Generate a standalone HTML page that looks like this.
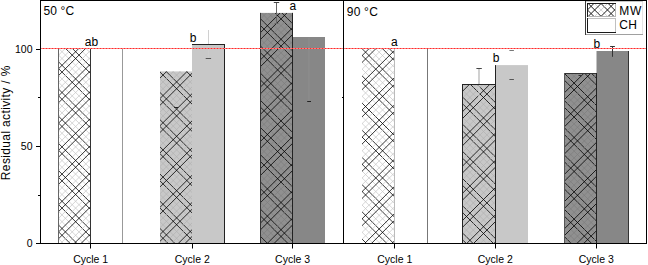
<!DOCTYPE html>
<html><head><meta charset="utf-8"><style>
html,body{margin:0;padding:0;background:#fff;width:648px;height:265px;overflow:hidden}
svg{display:block}
</style></head><body><svg width="648" height="265" viewBox="0 0 648 265"><defs><pattern id="hleg" patternUnits="userSpaceOnUse" x="0" y="0" width="20" height="20"><line x1="-62.50" y1="-20.00" x2="-2.50" y2="40.00" stroke="#1a1a1a" stroke-width="1.0"/><line x1="-42.50" y1="-20.00" x2="17.50" y2="40.00" stroke="#1a1a1a" stroke-width="1.0"/><line x1="-22.50" y1="-20.00" x2="37.50" y2="40.00" stroke="#1a1a1a" stroke-width="1.0"/><line x1="-2.50" y1="-20.00" x2="57.50" y2="40.00" stroke="#1a1a1a" stroke-width="1.0"/><line x1="17.50" y1="-20.00" x2="77.50" y2="40.00" stroke="#1a1a1a" stroke-width="1.0"/><line x1="37.50" y1="-20.00" x2="97.50" y2="40.00" stroke="#1a1a1a" stroke-width="1.0"/><line x1="57.50" y1="-20.00" x2="117.50" y2="40.00" stroke="#1a1a1a" stroke-width="1.0"/><line x1="-55.30" y1="-20.00" x2="4.70" y2="40.00" stroke="#1a1a1a" stroke-width="1.0"/><line x1="-35.30" y1="-20.00" x2="24.70" y2="40.00" stroke="#1a1a1a" stroke-width="1.0"/><line x1="-15.30" y1="-20.00" x2="44.70" y2="40.00" stroke="#1a1a1a" stroke-width="1.0"/><line x1="4.70" y1="-20.00" x2="64.70" y2="40.00" stroke="#1a1a1a" stroke-width="1.0"/><line x1="24.70" y1="-20.00" x2="84.70" y2="40.00" stroke="#1a1a1a" stroke-width="1.0"/><line x1="44.70" y1="-20.00" x2="104.70" y2="40.00" stroke="#1a1a1a" stroke-width="1.0"/><line x1="64.70" y1="-20.00" x2="124.70" y2="40.00" stroke="#1a1a1a" stroke-width="1.0"/><line x1="-48.90" y1="-20.00" x2="11.10" y2="40.00" stroke="#c8c8c8" stroke-width="0.8"/><line x1="-28.90" y1="-20.00" x2="31.10" y2="40.00" stroke="#c8c8c8" stroke-width="0.8"/><line x1="-8.90" y1="-20.00" x2="51.10" y2="40.00" stroke="#c8c8c8" stroke-width="0.8"/><line x1="11.10" y1="-20.00" x2="71.10" y2="40.00" stroke="#c8c8c8" stroke-width="0.8"/><line x1="31.10" y1="-20.00" x2="91.10" y2="40.00" stroke="#c8c8c8" stroke-width="0.8"/><line x1="51.10" y1="-20.00" x2="111.10" y2="40.00" stroke="#c8c8c8" stroke-width="0.8"/><line x1="71.10" y1="-20.00" x2="131.10" y2="40.00" stroke="#c8c8c8" stroke-width="0.8"/><line x1="-22.60" y1="-20.00" x2="-82.60" y2="40.00" stroke="#1a1a1a" stroke-width="1.0"/><line x1="-2.60" y1="-20.00" x2="-62.60" y2="40.00" stroke="#1a1a1a" stroke-width="1.0"/><line x1="17.40" y1="-20.00" x2="-42.60" y2="40.00" stroke="#1a1a1a" stroke-width="1.0"/><line x1="37.40" y1="-20.00" x2="-22.60" y2="40.00" stroke="#1a1a1a" stroke-width="1.0"/><line x1="57.40" y1="-20.00" x2="-2.60" y2="40.00" stroke="#1a1a1a" stroke-width="1.0"/><line x1="77.40" y1="-20.00" x2="17.40" y2="40.00" stroke="#1a1a1a" stroke-width="1.0"/><line x1="97.40" y1="-20.00" x2="37.40" y2="40.00" stroke="#1a1a1a" stroke-width="1.0"/><line x1="-15.40" y1="-20.00" x2="-75.40" y2="40.00" stroke="#1a1a1a" stroke-width="1.0"/><line x1="4.60" y1="-20.00" x2="-55.40" y2="40.00" stroke="#1a1a1a" stroke-width="1.0"/><line x1="24.60" y1="-20.00" x2="-35.40" y2="40.00" stroke="#1a1a1a" stroke-width="1.0"/><line x1="44.60" y1="-20.00" x2="-15.40" y2="40.00" stroke="#1a1a1a" stroke-width="1.0"/><line x1="64.60" y1="-20.00" x2="4.60" y2="40.00" stroke="#1a1a1a" stroke-width="1.0"/><line x1="84.60" y1="-20.00" x2="24.60" y2="40.00" stroke="#1a1a1a" stroke-width="1.0"/><line x1="104.60" y1="-20.00" x2="44.60" y2="40.00" stroke="#1a1a1a" stroke-width="1.0"/><line x1="-9.00" y1="-20.00" x2="-69.00" y2="40.00" stroke="#c8c8c8" stroke-width="0.8"/><line x1="11.00" y1="-20.00" x2="-49.00" y2="40.00" stroke="#c8c8c8" stroke-width="0.8"/><line x1="31.00" y1="-20.00" x2="-29.00" y2="40.00" stroke="#c8c8c8" stroke-width="0.8"/><line x1="51.00" y1="-20.00" x2="-9.00" y2="40.00" stroke="#c8c8c8" stroke-width="0.8"/><line x1="71.00" y1="-20.00" x2="11.00" y2="40.00" stroke="#c8c8c8" stroke-width="0.8"/><line x1="91.00" y1="-20.00" x2="31.00" y2="40.00" stroke="#c8c8c8" stroke-width="0.8"/><line x1="111.00" y1="-20.00" x2="51.00" y2="40.00" stroke="#c8c8c8" stroke-width="0.8"/></pattern><clipPath id="c0"><rect x="58" y="49" width="33" height="194.0"/></clipPath><clipPath id="c1"><rect x="160" y="71.4" width="32" height="171.6"/></clipPath><clipPath id="c2"><rect x="260" y="12.9" width="33" height="230.1"/></clipPath><clipPath id="c3"><rect x="362" y="49" width="33" height="194.0"/></clipPath><clipPath id="c4"><rect x="462" y="84" width="33.5" height="159.0"/></clipPath><clipPath id="c5"><rect x="564" y="73" width="32.5" height="170.0"/></clipPath></defs><rect x="58" y="49" width="33" height="194.0" fill="#fff"/><g clip-path="url(#c0)" shape-rendering="auto"><line x1="-133.10" y1="47" x2="64.90" y2="245.0" stroke="#c4c4c4" stroke-width="0.7"/><line x1="-126.30" y1="47" x2="71.70" y2="245.0" stroke="#000" stroke-width="0.8"/><line x1="-119.50" y1="47" x2="78.50" y2="245.0" stroke="#000" stroke-width="0.8"/><line x1="-112.70" y1="47" x2="85.30" y2="245.0" stroke="#c4c4c4" stroke-width="0.7"/><line x1="-105.90" y1="47" x2="92.10" y2="245.0" stroke="#c4c4c4" stroke-width="0.7"/><line x1="-99.10" y1="47" x2="98.90" y2="245.0" stroke="#000" stroke-width="0.8"/><line x1="-92.30" y1="47" x2="105.70" y2="245.0" stroke="#000" stroke-width="0.8"/><line x1="-85.50" y1="47" x2="112.50" y2="245.0" stroke="#c4c4c4" stroke-width="0.7"/><line x1="-78.70" y1="47" x2="119.30" y2="245.0" stroke="#c4c4c4" stroke-width="0.7"/><line x1="-71.90" y1="47" x2="126.10" y2="245.0" stroke="#000" stroke-width="0.8"/><line x1="-65.10" y1="47" x2="132.90" y2="245.0" stroke="#000" stroke-width="0.8"/><line x1="-58.30" y1="47" x2="139.70" y2="245.0" stroke="#c4c4c4" stroke-width="0.7"/><line x1="-51.50" y1="47" x2="146.50" y2="245.0" stroke="#c4c4c4" stroke-width="0.7"/><line x1="-44.70" y1="47" x2="153.30" y2="245.0" stroke="#000" stroke-width="0.8"/><line x1="-37.90" y1="47" x2="160.10" y2="245.0" stroke="#000" stroke-width="0.8"/><line x1="-31.10" y1="47" x2="166.90" y2="245.0" stroke="#c4c4c4" stroke-width="0.7"/><line x1="-24.30" y1="47" x2="173.70" y2="245.0" stroke="#c4c4c4" stroke-width="0.7"/><line x1="-17.50" y1="47" x2="180.50" y2="245.0" stroke="#000" stroke-width="0.8"/><line x1="-10.70" y1="47" x2="187.30" y2="245.0" stroke="#000" stroke-width="0.8"/><line x1="-3.90" y1="47" x2="194.10" y2="245.0" stroke="#c4c4c4" stroke-width="0.7"/><line x1="2.90" y1="47" x2="200.90" y2="245.0" stroke="#c4c4c4" stroke-width="0.7"/><line x1="9.70" y1="47" x2="207.70" y2="245.0" stroke="#000" stroke-width="0.8"/><line x1="16.50" y1="47" x2="214.50" y2="245.0" stroke="#000" stroke-width="0.8"/><line x1="23.30" y1="47" x2="221.30" y2="245.0" stroke="#c4c4c4" stroke-width="0.7"/><line x1="30.10" y1="47" x2="228.10" y2="245.0" stroke="#c4c4c4" stroke-width="0.7"/><line x1="36.90" y1="47" x2="234.90" y2="245.0" stroke="#000" stroke-width="0.8"/><line x1="43.70" y1="47" x2="241.70" y2="245.0" stroke="#000" stroke-width="0.8"/><line x1="50.50" y1="47" x2="248.50" y2="245.0" stroke="#c4c4c4" stroke-width="0.7"/><line x1="57.30" y1="47" x2="255.30" y2="245.0" stroke="#c4c4c4" stroke-width="0.7"/><line x1="64.10" y1="47" x2="262.10" y2="245.0" stroke="#000" stroke-width="0.8"/><line x1="70.90" y1="47" x2="268.90" y2="245.0" stroke="#000" stroke-width="0.8"/><line x1="77.70" y1="47" x2="275.70" y2="245.0" stroke="#c4c4c4" stroke-width="0.7"/><line x1="84.50" y1="47" x2="282.50" y2="245.0" stroke="#c4c4c4" stroke-width="0.7"/><line x1="59.90" y1="47" x2="-138.10" y2="245.0" stroke="#000" stroke-width="0.8"/><line x1="66.70" y1="47" x2="-131.30" y2="245.0" stroke="#c4c4c4" stroke-width="0.7"/><line x1="73.50" y1="47" x2="-124.50" y2="245.0" stroke="#c4c4c4" stroke-width="0.7"/><line x1="80.30" y1="47" x2="-117.70" y2="245.0" stroke="#000" stroke-width="0.8"/><line x1="87.10" y1="47" x2="-110.90" y2="245.0" stroke="#000" stroke-width="0.8"/><line x1="93.90" y1="47" x2="-104.10" y2="245.0" stroke="#c4c4c4" stroke-width="0.7"/><line x1="100.70" y1="47" x2="-97.30" y2="245.0" stroke="#c4c4c4" stroke-width="0.7"/><line x1="107.50" y1="47" x2="-90.50" y2="245.0" stroke="#000" stroke-width="0.8"/><line x1="114.30" y1="47" x2="-83.70" y2="245.0" stroke="#000" stroke-width="0.8"/><line x1="121.10" y1="47" x2="-76.90" y2="245.0" stroke="#c4c4c4" stroke-width="0.7"/><line x1="127.90" y1="47" x2="-70.10" y2="245.0" stroke="#c4c4c4" stroke-width="0.7"/><line x1="134.70" y1="47" x2="-63.30" y2="245.0" stroke="#000" stroke-width="0.8"/><line x1="141.50" y1="47" x2="-56.50" y2="245.0" stroke="#000" stroke-width="0.8"/><line x1="148.30" y1="47" x2="-49.70" y2="245.0" stroke="#c4c4c4" stroke-width="0.7"/><line x1="155.10" y1="47" x2="-42.90" y2="245.0" stroke="#c4c4c4" stroke-width="0.7"/><line x1="161.90" y1="47" x2="-36.10" y2="245.0" stroke="#000" stroke-width="0.8"/><line x1="168.70" y1="47" x2="-29.30" y2="245.0" stroke="#000" stroke-width="0.8"/><line x1="175.50" y1="47" x2="-22.50" y2="245.0" stroke="#c4c4c4" stroke-width="0.7"/><line x1="182.30" y1="47" x2="-15.70" y2="245.0" stroke="#c4c4c4" stroke-width="0.7"/><line x1="189.10" y1="47" x2="-8.90" y2="245.0" stroke="#000" stroke-width="0.8"/><line x1="195.90" y1="47" x2="-2.10" y2="245.0" stroke="#000" stroke-width="0.8"/><line x1="202.70" y1="47" x2="4.70" y2="245.0" stroke="#c4c4c4" stroke-width="0.7"/><line x1="209.50" y1="47" x2="11.50" y2="245.0" stroke="#c4c4c4" stroke-width="0.7"/><line x1="216.30" y1="47" x2="18.30" y2="245.0" stroke="#000" stroke-width="0.8"/><line x1="223.10" y1="47" x2="25.10" y2="245.0" stroke="#000" stroke-width="0.8"/><line x1="229.90" y1="47" x2="31.90" y2="245.0" stroke="#c4c4c4" stroke-width="0.7"/><line x1="236.70" y1="47" x2="38.70" y2="245.0" stroke="#c4c4c4" stroke-width="0.7"/><line x1="243.50" y1="47" x2="45.50" y2="245.0" stroke="#000" stroke-width="0.8"/><line x1="250.30" y1="47" x2="52.30" y2="245.0" stroke="#000" stroke-width="0.8"/><line x1="257.10" y1="47" x2="59.10" y2="245.0" stroke="#c4c4c4" stroke-width="0.7"/><line x1="263.90" y1="47" x2="65.90" y2="245.0" stroke="#c4c4c4" stroke-width="0.7"/><line x1="270.70" y1="47" x2="72.70" y2="245.0" stroke="#000" stroke-width="0.8"/><line x1="277.50" y1="47" x2="79.50" y2="245.0" stroke="#000" stroke-width="0.8"/><line x1="284.30" y1="47" x2="86.30" y2="245.0" stroke="#c4c4c4" stroke-width="0.7"/></g><rect x="91" y="49" width="32" height="194.0" fill="#fff"/><rect x="160" y="71.4" width="32" height="171.6" fill="#c8c8c8"/><g clip-path="url(#c1)" shape-rendering="auto"><line x1="-12.70" y1="69.4" x2="162.90" y2="245.0" stroke="#b2b2b2" stroke-width="0.7"/><line x1="-5.90" y1="69.4" x2="169.70" y2="245.0" stroke="#000" stroke-width="0.8"/><line x1="0.90" y1="69.4" x2="176.50" y2="245.0" stroke="#000" stroke-width="0.8"/><line x1="7.70" y1="69.4" x2="183.30" y2="245.0" stroke="#b2b2b2" stroke-width="0.7"/><line x1="14.50" y1="69.4" x2="190.10" y2="245.0" stroke="#b2b2b2" stroke-width="0.7"/><line x1="21.30" y1="69.4" x2="196.90" y2="245.0" stroke="#000" stroke-width="0.8"/><line x1="28.10" y1="69.4" x2="203.70" y2="245.0" stroke="#000" stroke-width="0.8"/><line x1="34.90" y1="69.4" x2="210.50" y2="245.0" stroke="#b2b2b2" stroke-width="0.7"/><line x1="41.70" y1="69.4" x2="217.30" y2="245.0" stroke="#b2b2b2" stroke-width="0.7"/><line x1="48.50" y1="69.4" x2="224.10" y2="245.0" stroke="#000" stroke-width="0.8"/><line x1="55.30" y1="69.4" x2="230.90" y2="245.0" stroke="#000" stroke-width="0.8"/><line x1="62.10" y1="69.4" x2="237.70" y2="245.0" stroke="#b2b2b2" stroke-width="0.7"/><line x1="68.90" y1="69.4" x2="244.50" y2="245.0" stroke="#b2b2b2" stroke-width="0.7"/><line x1="75.70" y1="69.4" x2="251.30" y2="245.0" stroke="#000" stroke-width="0.8"/><line x1="82.50" y1="69.4" x2="258.10" y2="245.0" stroke="#000" stroke-width="0.8"/><line x1="89.30" y1="69.4" x2="264.90" y2="245.0" stroke="#b2b2b2" stroke-width="0.7"/><line x1="96.10" y1="69.4" x2="271.70" y2="245.0" stroke="#b2b2b2" stroke-width="0.7"/><line x1="102.90" y1="69.4" x2="278.50" y2="245.0" stroke="#000" stroke-width="0.8"/><line x1="109.70" y1="69.4" x2="285.30" y2="245.0" stroke="#000" stroke-width="0.8"/><line x1="116.50" y1="69.4" x2="292.10" y2="245.0" stroke="#b2b2b2" stroke-width="0.7"/><line x1="123.30" y1="69.4" x2="298.90" y2="245.0" stroke="#b2b2b2" stroke-width="0.7"/><line x1="130.10" y1="69.4" x2="305.70" y2="245.0" stroke="#000" stroke-width="0.8"/><line x1="136.90" y1="69.4" x2="312.50" y2="245.0" stroke="#000" stroke-width="0.8"/><line x1="143.70" y1="69.4" x2="319.30" y2="245.0" stroke="#b2b2b2" stroke-width="0.7"/><line x1="150.50" y1="69.4" x2="326.10" y2="245.0" stroke="#b2b2b2" stroke-width="0.7"/><line x1="157.30" y1="69.4" x2="332.90" y2="245.0" stroke="#000" stroke-width="0.8"/><line x1="164.10" y1="69.4" x2="339.70" y2="245.0" stroke="#000" stroke-width="0.8"/><line x1="170.90" y1="69.4" x2="346.50" y2="245.0" stroke="#b2b2b2" stroke-width="0.7"/><line x1="177.70" y1="69.4" x2="353.30" y2="245.0" stroke="#b2b2b2" stroke-width="0.7"/><line x1="184.50" y1="69.4" x2="360.10" y2="245.0" stroke="#000" stroke-width="0.8"/><line x1="161.90" y1="69.4" x2="-13.70" y2="245.0" stroke="#000" stroke-width="0.8"/><line x1="168.70" y1="69.4" x2="-6.90" y2="245.0" stroke="#000" stroke-width="0.8"/><line x1="175.50" y1="69.4" x2="-0.10" y2="245.0" stroke="#b2b2b2" stroke-width="0.7"/><line x1="182.30" y1="69.4" x2="6.70" y2="245.0" stroke="#b2b2b2" stroke-width="0.7"/><line x1="189.10" y1="69.4" x2="13.50" y2="245.0" stroke="#000" stroke-width="0.8"/><line x1="195.90" y1="69.4" x2="20.30" y2="245.0" stroke="#000" stroke-width="0.8"/><line x1="202.70" y1="69.4" x2="27.10" y2="245.0" stroke="#b2b2b2" stroke-width="0.7"/><line x1="209.50" y1="69.4" x2="33.90" y2="245.0" stroke="#b2b2b2" stroke-width="0.7"/><line x1="216.30" y1="69.4" x2="40.70" y2="245.0" stroke="#000" stroke-width="0.8"/><line x1="223.10" y1="69.4" x2="47.50" y2="245.0" stroke="#000" stroke-width="0.8"/><line x1="229.90" y1="69.4" x2="54.30" y2="245.0" stroke="#b2b2b2" stroke-width="0.7"/><line x1="236.70" y1="69.4" x2="61.10" y2="245.0" stroke="#b2b2b2" stroke-width="0.7"/><line x1="243.50" y1="69.4" x2="67.90" y2="245.0" stroke="#000" stroke-width="0.8"/><line x1="250.30" y1="69.4" x2="74.70" y2="245.0" stroke="#000" stroke-width="0.8"/><line x1="257.10" y1="69.4" x2="81.50" y2="245.0" stroke="#b2b2b2" stroke-width="0.7"/><line x1="263.90" y1="69.4" x2="88.30" y2="245.0" stroke="#b2b2b2" stroke-width="0.7"/><line x1="270.70" y1="69.4" x2="95.10" y2="245.0" stroke="#000" stroke-width="0.8"/><line x1="277.50" y1="69.4" x2="101.90" y2="245.0" stroke="#000" stroke-width="0.8"/><line x1="284.30" y1="69.4" x2="108.70" y2="245.0" stroke="#b2b2b2" stroke-width="0.7"/><line x1="291.10" y1="69.4" x2="115.50" y2="245.0" stroke="#b2b2b2" stroke-width="0.7"/><line x1="297.90" y1="69.4" x2="122.30" y2="245.0" stroke="#000" stroke-width="0.8"/><line x1="304.70" y1="69.4" x2="129.10" y2="245.0" stroke="#000" stroke-width="0.8"/><line x1="311.50" y1="69.4" x2="135.90" y2="245.0" stroke="#b2b2b2" stroke-width="0.7"/><line x1="318.30" y1="69.4" x2="142.70" y2="245.0" stroke="#b2b2b2" stroke-width="0.7"/><line x1="325.10" y1="69.4" x2="149.50" y2="245.0" stroke="#000" stroke-width="0.8"/><line x1="331.90" y1="69.4" x2="156.30" y2="245.0" stroke="#000" stroke-width="0.8"/><line x1="338.70" y1="69.4" x2="163.10" y2="245.0" stroke="#b2b2b2" stroke-width="0.7"/><line x1="345.50" y1="69.4" x2="169.90" y2="245.0" stroke="#b2b2b2" stroke-width="0.7"/><line x1="352.30" y1="69.4" x2="176.70" y2="245.0" stroke="#000" stroke-width="0.8"/><line x1="359.10" y1="69.4" x2="183.50" y2="245.0" stroke="#000" stroke-width="0.8"/><line x1="365.90" y1="69.4" x2="190.30" y2="245.0" stroke="#b2b2b2" stroke-width="0.7"/></g><rect x="192" y="44" width="33" height="199.0" fill="#c8c8c8"/><rect x="260" y="12.9" width="33" height="230.1" fill="#909090"/><g clip-path="url(#c2)" shape-rendering="auto"><line x1="28.20" y1="10.9" x2="262.30" y2="245.0" stroke="#000" stroke-width="0.8"/><line x1="35.00" y1="10.9" x2="269.10" y2="245.0" stroke="#000" stroke-width="0.8"/><line x1="41.80" y1="10.9" x2="275.90" y2="245.0" stroke="#7e7e7e" stroke-width="0.7"/><line x1="48.60" y1="10.9" x2="282.70" y2="245.0" stroke="#7e7e7e" stroke-width="0.7"/><line x1="55.40" y1="10.9" x2="289.50" y2="245.0" stroke="#000" stroke-width="0.8"/><line x1="62.20" y1="10.9" x2="296.30" y2="245.0" stroke="#000" stroke-width="0.8"/><line x1="69.00" y1="10.9" x2="303.10" y2="245.0" stroke="#7e7e7e" stroke-width="0.7"/><line x1="75.80" y1="10.9" x2="309.90" y2="245.0" stroke="#7e7e7e" stroke-width="0.7"/><line x1="82.60" y1="10.9" x2="316.70" y2="245.0" stroke="#000" stroke-width="0.8"/><line x1="89.40" y1="10.9" x2="323.50" y2="245.0" stroke="#000" stroke-width="0.8"/><line x1="96.20" y1="10.9" x2="330.30" y2="245.0" stroke="#7e7e7e" stroke-width="0.7"/><line x1="103.00" y1="10.9" x2="337.10" y2="245.0" stroke="#7e7e7e" stroke-width="0.7"/><line x1="109.80" y1="10.9" x2="343.90" y2="245.0" stroke="#000" stroke-width="0.8"/><line x1="116.60" y1="10.9" x2="350.70" y2="245.0" stroke="#000" stroke-width="0.8"/><line x1="123.40" y1="10.9" x2="357.50" y2="245.0" stroke="#7e7e7e" stroke-width="0.7"/><line x1="130.20" y1="10.9" x2="364.30" y2="245.0" stroke="#7e7e7e" stroke-width="0.7"/><line x1="137.00" y1="10.9" x2="371.10" y2="245.0" stroke="#000" stroke-width="0.8"/><line x1="143.80" y1="10.9" x2="377.90" y2="245.0" stroke="#000" stroke-width="0.8"/><line x1="150.60" y1="10.9" x2="384.70" y2="245.0" stroke="#7e7e7e" stroke-width="0.7"/><line x1="157.40" y1="10.9" x2="391.50" y2="245.0" stroke="#7e7e7e" stroke-width="0.7"/><line x1="164.20" y1="10.9" x2="398.30" y2="245.0" stroke="#000" stroke-width="0.8"/><line x1="171.00" y1="10.9" x2="405.10" y2="245.0" stroke="#000" stroke-width="0.8"/><line x1="177.80" y1="10.9" x2="411.90" y2="245.0" stroke="#7e7e7e" stroke-width="0.7"/><line x1="184.60" y1="10.9" x2="418.70" y2="245.0" stroke="#7e7e7e" stroke-width="0.7"/><line x1="191.40" y1="10.9" x2="425.50" y2="245.0" stroke="#000" stroke-width="0.8"/><line x1="198.20" y1="10.9" x2="432.30" y2="245.0" stroke="#000" stroke-width="0.8"/><line x1="205.00" y1="10.9" x2="439.10" y2="245.0" stroke="#7e7e7e" stroke-width="0.7"/><line x1="211.80" y1="10.9" x2="445.90" y2="245.0" stroke="#7e7e7e" stroke-width="0.7"/><line x1="218.60" y1="10.9" x2="452.70" y2="245.0" stroke="#000" stroke-width="0.8"/><line x1="225.40" y1="10.9" x2="459.50" y2="245.0" stroke="#000" stroke-width="0.8"/><line x1="232.20" y1="10.9" x2="466.30" y2="245.0" stroke="#7e7e7e" stroke-width="0.7"/><line x1="239.00" y1="10.9" x2="473.10" y2="245.0" stroke="#7e7e7e" stroke-width="0.7"/><line x1="245.80" y1="10.9" x2="479.90" y2="245.0" stroke="#000" stroke-width="0.8"/><line x1="252.60" y1="10.9" x2="486.70" y2="245.0" stroke="#000" stroke-width="0.8"/><line x1="259.40" y1="10.9" x2="493.50" y2="245.0" stroke="#7e7e7e" stroke-width="0.7"/><line x1="266.20" y1="10.9" x2="500.30" y2="245.0" stroke="#7e7e7e" stroke-width="0.7"/><line x1="273.00" y1="10.9" x2="507.10" y2="245.0" stroke="#000" stroke-width="0.8"/><line x1="279.80" y1="10.9" x2="513.90" y2="245.0" stroke="#000" stroke-width="0.8"/><line x1="286.60" y1="10.9" x2="520.70" y2="245.0" stroke="#7e7e7e" stroke-width="0.7"/><line x1="261.80" y1="10.9" x2="27.70" y2="245.0" stroke="#000" stroke-width="0.8"/><line x1="268.60" y1="10.9" x2="34.50" y2="245.0" stroke="#7e7e7e" stroke-width="0.7"/><line x1="275.40" y1="10.9" x2="41.30" y2="245.0" stroke="#7e7e7e" stroke-width="0.7"/><line x1="282.20" y1="10.9" x2="48.10" y2="245.0" stroke="#000" stroke-width="0.8"/><line x1="289.00" y1="10.9" x2="54.90" y2="245.0" stroke="#000" stroke-width="0.8"/><line x1="295.80" y1="10.9" x2="61.70" y2="245.0" stroke="#7e7e7e" stroke-width="0.7"/><line x1="302.60" y1="10.9" x2="68.50" y2="245.0" stroke="#7e7e7e" stroke-width="0.7"/><line x1="309.40" y1="10.9" x2="75.30" y2="245.0" stroke="#000" stroke-width="0.8"/><line x1="316.20" y1="10.9" x2="82.10" y2="245.0" stroke="#000" stroke-width="0.8"/><line x1="323.00" y1="10.9" x2="88.90" y2="245.0" stroke="#7e7e7e" stroke-width="0.7"/><line x1="329.80" y1="10.9" x2="95.70" y2="245.0" stroke="#7e7e7e" stroke-width="0.7"/><line x1="336.60" y1="10.9" x2="102.50" y2="245.0" stroke="#000" stroke-width="0.8"/><line x1="343.40" y1="10.9" x2="109.30" y2="245.0" stroke="#000" stroke-width="0.8"/><line x1="350.20" y1="10.9" x2="116.10" y2="245.0" stroke="#7e7e7e" stroke-width="0.7"/><line x1="357.00" y1="10.9" x2="122.90" y2="245.0" stroke="#7e7e7e" stroke-width="0.7"/><line x1="363.80" y1="10.9" x2="129.70" y2="245.0" stroke="#000" stroke-width="0.8"/><line x1="370.60" y1="10.9" x2="136.50" y2="245.0" stroke="#000" stroke-width="0.8"/><line x1="377.40" y1="10.9" x2="143.30" y2="245.0" stroke="#7e7e7e" stroke-width="0.7"/><line x1="384.20" y1="10.9" x2="150.10" y2="245.0" stroke="#7e7e7e" stroke-width="0.7"/><line x1="391.00" y1="10.9" x2="156.90" y2="245.0" stroke="#000" stroke-width="0.8"/><line x1="397.80" y1="10.9" x2="163.70" y2="245.0" stroke="#000" stroke-width="0.8"/><line x1="404.60" y1="10.9" x2="170.50" y2="245.0" stroke="#7e7e7e" stroke-width="0.7"/><line x1="411.40" y1="10.9" x2="177.30" y2="245.0" stroke="#7e7e7e" stroke-width="0.7"/><line x1="418.20" y1="10.9" x2="184.10" y2="245.0" stroke="#000" stroke-width="0.8"/><line x1="425.00" y1="10.9" x2="190.90" y2="245.0" stroke="#000" stroke-width="0.8"/><line x1="431.80" y1="10.9" x2="197.70" y2="245.0" stroke="#7e7e7e" stroke-width="0.7"/><line x1="438.60" y1="10.9" x2="204.50" y2="245.0" stroke="#7e7e7e" stroke-width="0.7"/><line x1="445.40" y1="10.9" x2="211.30" y2="245.0" stroke="#000" stroke-width="0.8"/><line x1="452.20" y1="10.9" x2="218.10" y2="245.0" stroke="#000" stroke-width="0.8"/><line x1="459.00" y1="10.9" x2="224.90" y2="245.0" stroke="#7e7e7e" stroke-width="0.7"/><line x1="465.80" y1="10.9" x2="231.70" y2="245.0" stroke="#7e7e7e" stroke-width="0.7"/><line x1="472.60" y1="10.9" x2="238.50" y2="245.0" stroke="#000" stroke-width="0.8"/><line x1="479.40" y1="10.9" x2="245.30" y2="245.0" stroke="#000" stroke-width="0.8"/><line x1="486.20" y1="10.9" x2="252.10" y2="245.0" stroke="#7e7e7e" stroke-width="0.7"/><line x1="493.00" y1="10.9" x2="258.90" y2="245.0" stroke="#7e7e7e" stroke-width="0.7"/><line x1="499.80" y1="10.9" x2="265.70" y2="245.0" stroke="#000" stroke-width="0.8"/><line x1="506.60" y1="10.9" x2="272.50" y2="245.0" stroke="#000" stroke-width="0.8"/><line x1="513.40" y1="10.9" x2="279.30" y2="245.0" stroke="#7e7e7e" stroke-width="0.7"/><line x1="520.20" y1="10.9" x2="286.10" y2="245.0" stroke="#7e7e7e" stroke-width="0.7"/></g><rect x="293" y="37" width="32" height="206.0" fill="#878787"/><rect x="362" y="49" width="33" height="194.0" fill="#fff"/><g clip-path="url(#c3)" shape-rendering="auto"><line x1="170.00" y1="47" x2="368.00" y2="245.0" stroke="#000" stroke-width="0.8"/><line x1="176.80" y1="47" x2="374.80" y2="245.0" stroke="#c4c4c4" stroke-width="0.7"/><line x1="183.60" y1="47" x2="381.60" y2="245.0" stroke="#c4c4c4" stroke-width="0.7"/><line x1="190.40" y1="47" x2="388.40" y2="245.0" stroke="#000" stroke-width="0.8"/><line x1="197.20" y1="47" x2="395.20" y2="245.0" stroke="#000" stroke-width="0.8"/><line x1="204.00" y1="47" x2="402.00" y2="245.0" stroke="#c4c4c4" stroke-width="0.7"/><line x1="210.80" y1="47" x2="408.80" y2="245.0" stroke="#c4c4c4" stroke-width="0.7"/><line x1="217.60" y1="47" x2="415.60" y2="245.0" stroke="#000" stroke-width="0.8"/><line x1="224.40" y1="47" x2="422.40" y2="245.0" stroke="#000" stroke-width="0.8"/><line x1="231.20" y1="47" x2="429.20" y2="245.0" stroke="#c4c4c4" stroke-width="0.7"/><line x1="238.00" y1="47" x2="436.00" y2="245.0" stroke="#c4c4c4" stroke-width="0.7"/><line x1="244.80" y1="47" x2="442.80" y2="245.0" stroke="#000" stroke-width="0.8"/><line x1="251.60" y1="47" x2="449.60" y2="245.0" stroke="#000" stroke-width="0.8"/><line x1="258.40" y1="47" x2="456.40" y2="245.0" stroke="#c4c4c4" stroke-width="0.7"/><line x1="265.20" y1="47" x2="463.20" y2="245.0" stroke="#c4c4c4" stroke-width="0.7"/><line x1="272.00" y1="47" x2="470.00" y2="245.0" stroke="#000" stroke-width="0.8"/><line x1="278.80" y1="47" x2="476.80" y2="245.0" stroke="#000" stroke-width="0.8"/><line x1="285.60" y1="47" x2="483.60" y2="245.0" stroke="#c4c4c4" stroke-width="0.7"/><line x1="292.40" y1="47" x2="490.40" y2="245.0" stroke="#c4c4c4" stroke-width="0.7"/><line x1="299.20" y1="47" x2="497.20" y2="245.0" stroke="#000" stroke-width="0.8"/><line x1="306.00" y1="47" x2="504.00" y2="245.0" stroke="#000" stroke-width="0.8"/><line x1="312.80" y1="47" x2="510.80" y2="245.0" stroke="#c4c4c4" stroke-width="0.7"/><line x1="319.60" y1="47" x2="517.60" y2="245.0" stroke="#c4c4c4" stroke-width="0.7"/><line x1="326.40" y1="47" x2="524.40" y2="245.0" stroke="#000" stroke-width="0.8"/><line x1="333.20" y1="47" x2="531.20" y2="245.0" stroke="#000" stroke-width="0.8"/><line x1="340.00" y1="47" x2="538.00" y2="245.0" stroke="#c4c4c4" stroke-width="0.7"/><line x1="346.80" y1="47" x2="544.80" y2="245.0" stroke="#c4c4c4" stroke-width="0.7"/><line x1="353.60" y1="47" x2="551.60" y2="245.0" stroke="#000" stroke-width="0.8"/><line x1="360.40" y1="47" x2="558.40" y2="245.0" stroke="#000" stroke-width="0.8"/><line x1="367.20" y1="47" x2="565.20" y2="245.0" stroke="#c4c4c4" stroke-width="0.7"/><line x1="374.00" y1="47" x2="572.00" y2="245.0" stroke="#c4c4c4" stroke-width="0.7"/><line x1="380.80" y1="47" x2="578.80" y2="245.0" stroke="#000" stroke-width="0.8"/><line x1="387.60" y1="47" x2="585.60" y2="245.0" stroke="#000" stroke-width="0.8"/><line x1="363.90" y1="47" x2="165.90" y2="245.0" stroke="#c4c4c4" stroke-width="0.7"/><line x1="370.70" y1="47" x2="172.70" y2="245.0" stroke="#000" stroke-width="0.8"/><line x1="377.50" y1="47" x2="179.50" y2="245.0" stroke="#000" stroke-width="0.8"/><line x1="384.30" y1="47" x2="186.30" y2="245.0" stroke="#c4c4c4" stroke-width="0.7"/><line x1="391.10" y1="47" x2="193.10" y2="245.0" stroke="#c4c4c4" stroke-width="0.7"/><line x1="397.90" y1="47" x2="199.90" y2="245.0" stroke="#000" stroke-width="0.8"/><line x1="404.70" y1="47" x2="206.70" y2="245.0" stroke="#000" stroke-width="0.8"/><line x1="411.50" y1="47" x2="213.50" y2="245.0" stroke="#c4c4c4" stroke-width="0.7"/><line x1="418.30" y1="47" x2="220.30" y2="245.0" stroke="#c4c4c4" stroke-width="0.7"/><line x1="425.10" y1="47" x2="227.10" y2="245.0" stroke="#000" stroke-width="0.8"/><line x1="431.90" y1="47" x2="233.90" y2="245.0" stroke="#000" stroke-width="0.8"/><line x1="438.70" y1="47" x2="240.70" y2="245.0" stroke="#c4c4c4" stroke-width="0.7"/><line x1="445.50" y1="47" x2="247.50" y2="245.0" stroke="#c4c4c4" stroke-width="0.7"/><line x1="452.30" y1="47" x2="254.30" y2="245.0" stroke="#000" stroke-width="0.8"/><line x1="459.10" y1="47" x2="261.10" y2="245.0" stroke="#000" stroke-width="0.8"/><line x1="465.90" y1="47" x2="267.90" y2="245.0" stroke="#c4c4c4" stroke-width="0.7"/><line x1="472.70" y1="47" x2="274.70" y2="245.0" stroke="#c4c4c4" stroke-width="0.7"/><line x1="479.50" y1="47" x2="281.50" y2="245.0" stroke="#000" stroke-width="0.8"/><line x1="486.30" y1="47" x2="288.30" y2="245.0" stroke="#000" stroke-width="0.8"/><line x1="493.10" y1="47" x2="295.10" y2="245.0" stroke="#c4c4c4" stroke-width="0.7"/><line x1="499.90" y1="47" x2="301.90" y2="245.0" stroke="#c4c4c4" stroke-width="0.7"/><line x1="506.70" y1="47" x2="308.70" y2="245.0" stroke="#000" stroke-width="0.8"/><line x1="513.50" y1="47" x2="315.50" y2="245.0" stroke="#000" stroke-width="0.8"/><line x1="520.30" y1="47" x2="322.30" y2="245.0" stroke="#c4c4c4" stroke-width="0.7"/><line x1="527.10" y1="47" x2="329.10" y2="245.0" stroke="#c4c4c4" stroke-width="0.7"/><line x1="533.90" y1="47" x2="335.90" y2="245.0" stroke="#000" stroke-width="0.8"/><line x1="540.70" y1="47" x2="342.70" y2="245.0" stroke="#000" stroke-width="0.8"/><line x1="547.50" y1="47" x2="349.50" y2="245.0" stroke="#c4c4c4" stroke-width="0.7"/><line x1="554.30" y1="47" x2="356.30" y2="245.0" stroke="#c4c4c4" stroke-width="0.7"/><line x1="561.10" y1="47" x2="363.10" y2="245.0" stroke="#000" stroke-width="0.8"/><line x1="567.90" y1="47" x2="369.90" y2="245.0" stroke="#000" stroke-width="0.8"/><line x1="574.70" y1="47" x2="376.70" y2="245.0" stroke="#c4c4c4" stroke-width="0.7"/><line x1="581.50" y1="47" x2="383.50" y2="245.0" stroke="#c4c4c4" stroke-width="0.7"/><line x1="588.30" y1="47" x2="390.30" y2="245.0" stroke="#000" stroke-width="0.8"/></g><rect x="395" y="49" width="33" height="194.0" fill="#fff"/><rect x="462" y="84" width="33.5" height="159.0" fill="#c8c8c8"/><g clip-path="url(#c4)" shape-rendering="auto"><line x1="304.80" y1="82" x2="467.80" y2="245.0" stroke="#000" stroke-width="0.8"/><line x1="311.60" y1="82" x2="474.60" y2="245.0" stroke="#000" stroke-width="0.8"/><line x1="318.40" y1="82" x2="481.40" y2="245.0" stroke="#b2b2b2" stroke-width="0.7"/><line x1="325.20" y1="82" x2="488.20" y2="245.0" stroke="#b2b2b2" stroke-width="0.7"/><line x1="332.00" y1="82" x2="495.00" y2="245.0" stroke="#000" stroke-width="0.8"/><line x1="338.80" y1="82" x2="501.80" y2="245.0" stroke="#000" stroke-width="0.8"/><line x1="345.60" y1="82" x2="508.60" y2="245.0" stroke="#b2b2b2" stroke-width="0.7"/><line x1="352.40" y1="82" x2="515.40" y2="245.0" stroke="#b2b2b2" stroke-width="0.7"/><line x1="359.20" y1="82" x2="522.20" y2="245.0" stroke="#000" stroke-width="0.8"/><line x1="366.00" y1="82" x2="529.00" y2="245.0" stroke="#000" stroke-width="0.8"/><line x1="372.80" y1="82" x2="535.80" y2="245.0" stroke="#b2b2b2" stroke-width="0.7"/><line x1="379.60" y1="82" x2="542.60" y2="245.0" stroke="#b2b2b2" stroke-width="0.7"/><line x1="386.40" y1="82" x2="549.40" y2="245.0" stroke="#000" stroke-width="0.8"/><line x1="393.20" y1="82" x2="556.20" y2="245.0" stroke="#000" stroke-width="0.8"/><line x1="400.00" y1="82" x2="563.00" y2="245.0" stroke="#b2b2b2" stroke-width="0.7"/><line x1="406.80" y1="82" x2="569.80" y2="245.0" stroke="#b2b2b2" stroke-width="0.7"/><line x1="413.60" y1="82" x2="576.60" y2="245.0" stroke="#000" stroke-width="0.8"/><line x1="420.40" y1="82" x2="583.40" y2="245.0" stroke="#000" stroke-width="0.8"/><line x1="427.20" y1="82" x2="590.20" y2="245.0" stroke="#b2b2b2" stroke-width="0.7"/><line x1="434.00" y1="82" x2="597.00" y2="245.0" stroke="#b2b2b2" stroke-width="0.7"/><line x1="440.80" y1="82" x2="603.80" y2="245.0" stroke="#000" stroke-width="0.8"/><line x1="447.60" y1="82" x2="610.60" y2="245.0" stroke="#000" stroke-width="0.8"/><line x1="454.40" y1="82" x2="617.40" y2="245.0" stroke="#b2b2b2" stroke-width="0.7"/><line x1="461.20" y1="82" x2="624.20" y2="245.0" stroke="#b2b2b2" stroke-width="0.7"/><line x1="468.00" y1="82" x2="631.00" y2="245.0" stroke="#000" stroke-width="0.8"/><line x1="474.80" y1="82" x2="637.80" y2="245.0" stroke="#000" stroke-width="0.8"/><line x1="481.60" y1="82" x2="644.60" y2="245.0" stroke="#b2b2b2" stroke-width="0.7"/><line x1="488.40" y1="82" x2="651.40" y2="245.0" stroke="#b2b2b2" stroke-width="0.7"/><line x1="465.00" y1="82" x2="302.00" y2="245.0" stroke="#000" stroke-width="0.8"/><line x1="471.80" y1="82" x2="308.80" y2="245.0" stroke="#000" stroke-width="0.8"/><line x1="478.60" y1="82" x2="315.60" y2="245.0" stroke="#b2b2b2" stroke-width="0.7"/><line x1="485.40" y1="82" x2="322.40" y2="245.0" stroke="#b2b2b2" stroke-width="0.7"/><line x1="492.20" y1="82" x2="329.20" y2="245.0" stroke="#000" stroke-width="0.8"/><line x1="499.00" y1="82" x2="336.00" y2="245.0" stroke="#000" stroke-width="0.8"/><line x1="505.80" y1="82" x2="342.80" y2="245.0" stroke="#b2b2b2" stroke-width="0.7"/><line x1="512.60" y1="82" x2="349.60" y2="245.0" stroke="#b2b2b2" stroke-width="0.7"/><line x1="519.40" y1="82" x2="356.40" y2="245.0" stroke="#000" stroke-width="0.8"/><line x1="526.20" y1="82" x2="363.20" y2="245.0" stroke="#000" stroke-width="0.8"/><line x1="533.00" y1="82" x2="370.00" y2="245.0" stroke="#b2b2b2" stroke-width="0.7"/><line x1="539.80" y1="82" x2="376.80" y2="245.0" stroke="#b2b2b2" stroke-width="0.7"/><line x1="546.60" y1="82" x2="383.60" y2="245.0" stroke="#000" stroke-width="0.8"/><line x1="553.40" y1="82" x2="390.40" y2="245.0" stroke="#000" stroke-width="0.8"/><line x1="560.20" y1="82" x2="397.20" y2="245.0" stroke="#b2b2b2" stroke-width="0.7"/><line x1="567.00" y1="82" x2="404.00" y2="245.0" stroke="#b2b2b2" stroke-width="0.7"/><line x1="573.80" y1="82" x2="410.80" y2="245.0" stroke="#000" stroke-width="0.8"/><line x1="580.60" y1="82" x2="417.60" y2="245.0" stroke="#000" stroke-width="0.8"/><line x1="587.40" y1="82" x2="424.40" y2="245.0" stroke="#b2b2b2" stroke-width="0.7"/><line x1="594.20" y1="82" x2="431.20" y2="245.0" stroke="#b2b2b2" stroke-width="0.7"/><line x1="601.00" y1="82" x2="438.00" y2="245.0" stroke="#000" stroke-width="0.8"/><line x1="607.80" y1="82" x2="444.80" y2="245.0" stroke="#000" stroke-width="0.8"/><line x1="614.60" y1="82" x2="451.60" y2="245.0" stroke="#b2b2b2" stroke-width="0.7"/><line x1="621.40" y1="82" x2="458.40" y2="245.0" stroke="#b2b2b2" stroke-width="0.7"/><line x1="628.20" y1="82" x2="465.20" y2="245.0" stroke="#000" stroke-width="0.8"/><line x1="635.00" y1="82" x2="472.00" y2="245.0" stroke="#000" stroke-width="0.8"/><line x1="641.80" y1="82" x2="478.80" y2="245.0" stroke="#b2b2b2" stroke-width="0.7"/><line x1="648.60" y1="82" x2="485.60" y2="245.0" stroke="#b2b2b2" stroke-width="0.7"/><line x1="655.40" y1="82" x2="492.40" y2="245.0" stroke="#000" stroke-width="0.8"/></g><rect x="495.5" y="65.1" width="32.5" height="177.9" fill="#c8c8c8"/><rect x="564" y="73" width="32.5" height="170.0" fill="#909090"/><g clip-path="url(#c5)" shape-rendering="auto"><line x1="392.00" y1="71" x2="566.00" y2="245.0" stroke="#000" stroke-width="0.8"/><line x1="398.80" y1="71" x2="572.80" y2="245.0" stroke="#000" stroke-width="0.8"/><line x1="405.60" y1="71" x2="579.60" y2="245.0" stroke="#7e7e7e" stroke-width="0.7"/><line x1="412.40" y1="71" x2="586.40" y2="245.0" stroke="#7e7e7e" stroke-width="0.7"/><line x1="419.20" y1="71" x2="593.20" y2="245.0" stroke="#000" stroke-width="0.8"/><line x1="426.00" y1="71" x2="600.00" y2="245.0" stroke="#000" stroke-width="0.8"/><line x1="432.80" y1="71" x2="606.80" y2="245.0" stroke="#7e7e7e" stroke-width="0.7"/><line x1="439.60" y1="71" x2="613.60" y2="245.0" stroke="#7e7e7e" stroke-width="0.7"/><line x1="446.40" y1="71" x2="620.40" y2="245.0" stroke="#000" stroke-width="0.8"/><line x1="453.20" y1="71" x2="627.20" y2="245.0" stroke="#000" stroke-width="0.8"/><line x1="460.00" y1="71" x2="634.00" y2="245.0" stroke="#7e7e7e" stroke-width="0.7"/><line x1="466.80" y1="71" x2="640.80" y2="245.0" stroke="#7e7e7e" stroke-width="0.7"/><line x1="473.60" y1="71" x2="647.60" y2="245.0" stroke="#000" stroke-width="0.8"/><line x1="480.40" y1="71" x2="654.40" y2="245.0" stroke="#000" stroke-width="0.8"/><line x1="487.20" y1="71" x2="661.20" y2="245.0" stroke="#7e7e7e" stroke-width="0.7"/><line x1="494.00" y1="71" x2="668.00" y2="245.0" stroke="#7e7e7e" stroke-width="0.7"/><line x1="500.80" y1="71" x2="674.80" y2="245.0" stroke="#000" stroke-width="0.8"/><line x1="507.60" y1="71" x2="681.60" y2="245.0" stroke="#000" stroke-width="0.8"/><line x1="514.40" y1="71" x2="688.40" y2="245.0" stroke="#7e7e7e" stroke-width="0.7"/><line x1="521.20" y1="71" x2="695.20" y2="245.0" stroke="#7e7e7e" stroke-width="0.7"/><line x1="528.00" y1="71" x2="702.00" y2="245.0" stroke="#000" stroke-width="0.8"/><line x1="534.80" y1="71" x2="708.80" y2="245.0" stroke="#000" stroke-width="0.8"/><line x1="541.60" y1="71" x2="715.60" y2="245.0" stroke="#7e7e7e" stroke-width="0.7"/><line x1="548.40" y1="71" x2="722.40" y2="245.0" stroke="#7e7e7e" stroke-width="0.7"/><line x1="555.20" y1="71" x2="729.20" y2="245.0" stroke="#000" stroke-width="0.8"/><line x1="562.00" y1="71" x2="736.00" y2="245.0" stroke="#000" stroke-width="0.8"/><line x1="568.80" y1="71" x2="742.80" y2="245.0" stroke="#7e7e7e" stroke-width="0.7"/><line x1="575.60" y1="71" x2="749.60" y2="245.0" stroke="#7e7e7e" stroke-width="0.7"/><line x1="582.40" y1="71" x2="756.40" y2="245.0" stroke="#000" stroke-width="0.8"/><line x1="589.20" y1="71" x2="763.20" y2="245.0" stroke="#000" stroke-width="0.8"/><line x1="565.80" y1="71" x2="391.80" y2="245.0" stroke="#000" stroke-width="0.8"/><line x1="572.60" y1="71" x2="398.60" y2="245.0" stroke="#7e7e7e" stroke-width="0.7"/><line x1="579.40" y1="71" x2="405.40" y2="245.0" stroke="#7e7e7e" stroke-width="0.7"/><line x1="586.20" y1="71" x2="412.20" y2="245.0" stroke="#000" stroke-width="0.8"/><line x1="593.00" y1="71" x2="419.00" y2="245.0" stroke="#000" stroke-width="0.8"/><line x1="599.80" y1="71" x2="425.80" y2="245.0" stroke="#7e7e7e" stroke-width="0.7"/><line x1="606.60" y1="71" x2="432.60" y2="245.0" stroke="#7e7e7e" stroke-width="0.7"/><line x1="613.40" y1="71" x2="439.40" y2="245.0" stroke="#000" stroke-width="0.8"/><line x1="620.20" y1="71" x2="446.20" y2="245.0" stroke="#000" stroke-width="0.8"/><line x1="627.00" y1="71" x2="453.00" y2="245.0" stroke="#7e7e7e" stroke-width="0.7"/><line x1="633.80" y1="71" x2="459.80" y2="245.0" stroke="#7e7e7e" stroke-width="0.7"/><line x1="640.60" y1="71" x2="466.60" y2="245.0" stroke="#000" stroke-width="0.8"/><line x1="647.40" y1="71" x2="473.40" y2="245.0" stroke="#000" stroke-width="0.8"/><line x1="654.20" y1="71" x2="480.20" y2="245.0" stroke="#7e7e7e" stroke-width="0.7"/><line x1="661.00" y1="71" x2="487.00" y2="245.0" stroke="#7e7e7e" stroke-width="0.7"/><line x1="667.80" y1="71" x2="493.80" y2="245.0" stroke="#000" stroke-width="0.8"/><line x1="674.60" y1="71" x2="500.60" y2="245.0" stroke="#000" stroke-width="0.8"/><line x1="681.40" y1="71" x2="507.40" y2="245.0" stroke="#7e7e7e" stroke-width="0.7"/><line x1="688.20" y1="71" x2="514.20" y2="245.0" stroke="#7e7e7e" stroke-width="0.7"/><line x1="695.00" y1="71" x2="521.00" y2="245.0" stroke="#000" stroke-width="0.8"/><line x1="701.80" y1="71" x2="527.80" y2="245.0" stroke="#000" stroke-width="0.8"/><line x1="708.60" y1="71" x2="534.60" y2="245.0" stroke="#7e7e7e" stroke-width="0.7"/><line x1="715.40" y1="71" x2="541.40" y2="245.0" stroke="#7e7e7e" stroke-width="0.7"/><line x1="722.20" y1="71" x2="548.20" y2="245.0" stroke="#000" stroke-width="0.8"/><line x1="729.00" y1="71" x2="555.00" y2="245.0" stroke="#000" stroke-width="0.8"/><line x1="735.80" y1="71" x2="561.80" y2="245.0" stroke="#7e7e7e" stroke-width="0.7"/><line x1="742.60" y1="71" x2="568.60" y2="245.0" stroke="#7e7e7e" stroke-width="0.7"/><line x1="749.40" y1="71" x2="575.40" y2="245.0" stroke="#000" stroke-width="0.8"/><line x1="756.20" y1="71" x2="582.20" y2="245.0" stroke="#000" stroke-width="0.8"/><line x1="763.00" y1="71" x2="589.00" y2="245.0" stroke="#7e7e7e" stroke-width="0.7"/></g><rect x="596.5" y="51" width="32.5" height="192.0" fill="#878787"/><line x1="58.5" y1="49" x2="58.5" y2="243" stroke="#666" stroke-width="1"/><line x1="90.5" y1="49" x2="90.5" y2="243" stroke="#333" stroke-width="1"/><line x1="122.5" y1="49" x2="122.5" y2="243" stroke="#999" stroke-width="1"/><line x1="192" y1="44.5" x2="225" y2="44.5" stroke="#222" stroke-width="1"/><line x1="224.5" y1="44" x2="224.5" y2="243" stroke="#222" stroke-width="1"/><line x1="260.5" y1="12.9" x2="260.5" y2="243" stroke="#333" stroke-width="1"/><line x1="292.5" y1="12.9" x2="292.5" y2="243" stroke="#222" stroke-width="1"/><line x1="394.5" y1="49" x2="394.5" y2="243" stroke="#bbb" stroke-width="1"/><line x1="427.5" y1="49" x2="427.5" y2="243" stroke="#777" stroke-width="1"/><line x1="462" y1="84.5" x2="495.5" y2="84.5" stroke="#222" stroke-width="1"/><line x1="462.5" y1="84" x2="462.5" y2="243" stroke="#222" stroke-width="1"/><line x1="495.5" y1="65.1" x2="495.5" y2="243" stroke="#222" stroke-width="1"/><line x1="564" y1="73.5" x2="596.5" y2="73.5" stroke="#333" stroke-width="1"/><line x1="564.5" y1="73" x2="564.5" y2="243" stroke="#555" stroke-width="1"/><line x1="596.5" y1="73" x2="596.5" y2="243" stroke="#222" stroke-width="1"/><line x1="628.5" y1="51" x2="628.5" y2="243" stroke="#333" stroke-width="1"/><line x1="174.1" y1="107.5" x2="178.3" y2="107.5" stroke="#222" stroke-width="1"/><line x1="208.5" y1="30" x2="208.5" y2="44" stroke="#d0d0d0" stroke-width="1"/><line x1="208.5" y1="45" x2="208.5" y2="58" stroke="#cbcbcb" stroke-width="1"/><line x1="205.7" y1="58.5" x2="211.1" y2="58.5" stroke="#555" stroke-width="1"/><line x1="276.5" y1="2.5" x2="276.5" y2="23.8" stroke="#666" stroke-width="1"/><line x1="273.8" y1="2.5" x2="279.2" y2="2.5" stroke="#444" stroke-width="1"/><line x1="274.5" y1="23.5" x2="278.3" y2="23.5" stroke="#666" stroke-width="1"/><line x1="309" y1="37.5" x2="309" y2="101" stroke="#8e8e8e" stroke-width="1"/><line x1="307.2" y1="101.5" x2="311" y2="101.5" stroke="#222" stroke-width="1"/><line x1="479" y1="68.5" x2="479" y2="84" stroke="#bdbdbd" stroke-width="1.4"/><line x1="479" y1="85" x2="479" y2="100" stroke="#d2d2d2" stroke-width="1.2"/><line x1="476.4" y1="68.5" x2="481.8" y2="68.5" stroke="#444" stroke-width="1"/><line x1="509.4" y1="50.5" x2="513.9" y2="50.5" stroke="#777" stroke-width="1"/><line x1="509.4" y1="79.5" x2="513.9" y2="79.5" stroke="#555" stroke-width="1"/><line x1="612.5" y1="46.3" x2="612.5" y2="56.8" stroke="#333" stroke-width="1"/><line x1="610.1" y1="46.5" x2="614.9" y2="46.5" stroke="#333" stroke-width="1"/><line x1="578.5" y1="75.5" x2="582" y2="75.5" stroke="#333" stroke-width="1"/><line x1="40" y1="48.5" x2="646" y2="48.5" stroke="#ff7a7a" stroke-width="1"/><line x1="40" y1="48.5" x2="646" y2="48.5" stroke="#ff2a2a" stroke-width="1" stroke-dasharray="1 2"/><line x1="40" y1="0.5" x2="647" y2="0.5" stroke="#000" stroke-width="1"/><line x1="36" y1="243.5" x2="647" y2="243.5" stroke="#000" stroke-width="1"/><line x1="40.5" y1="0" x2="40.5" y2="244" stroke="#000" stroke-width="1"/><line x1="343.5" y1="0" x2="343.5" y2="244" stroke="#000" stroke-width="1"/><line x1="646.5" y1="0" x2="646.5" y2="244" stroke="#000" stroke-width="1"/><line x1="36.0" y1="243.5" x2="40.5" y2="243.5" stroke="#000" stroke-width="1"/><line x1="36.0" y1="146.5" x2="40.5" y2="146.5" stroke="#000" stroke-width="1"/><line x1="36.0" y1="49.5" x2="40.5" y2="49.5" stroke="#000" stroke-width="1"/><line x1="38.0" y1="195.5" x2="40.5" y2="195.5" stroke="#000" stroke-width="1"/><line x1="38.0" y1="97.5" x2="40.5" y2="97.5" stroke="#000" stroke-width="1"/><line x1="342" y1="97.5" x2="343.5" y2="97.5" stroke="#000" stroke-width="1"/><line x1="90.5" y1="243.5" x2="90.5" y2="248.5" stroke="#000" stroke-width="1"/><line x1="192.5" y1="243.5" x2="192.5" y2="248.5" stroke="#000" stroke-width="1"/><line x1="292.5" y1="243.5" x2="292.5" y2="248.5" stroke="#000" stroke-width="1"/><line x1="394.5" y1="243.5" x2="394.5" y2="248.5" stroke="#000" stroke-width="1"/><line x1="495.5" y1="243.5" x2="495.5" y2="248.5" stroke="#000" stroke-width="1"/><line x1="596.5" y1="243.5" x2="596.5" y2="248.5" stroke="#000" stroke-width="1"/><rect x="586" y="1" width="57" height="33" fill="#fff"/><line x1="585.5" y1="1" x2="585.5" y2="35" stroke="#3a3a3a" stroke-width="1"/><line x1="586" y1="34.5" x2="643" y2="34.5" stroke="#a0a0a0" stroke-width="1"/><line x1="642.5" y1="1" x2="642.5" y2="34" stroke="#e4e4e4" stroke-width="1"/><line x1="586" y1="1.5" x2="643" y2="1.5" stroke="#c8c8c8" stroke-width="1"/><rect x="588" y="4" width="27.5" height="12.5" fill="url(#hleg)"/><line x1="587" y1="3.5" x2="616" y2="3.5" stroke="#1a1a1a" stroke-width="1"/><line x1="587.5" y1="3" x2="587.5" y2="17" stroke="#1a1a1a" stroke-width="1"/><line x1="588" y1="16.5" x2="616" y2="16.5" stroke="#b5b5b5" stroke-width="1"/><line x1="615.5" y1="4" x2="615.5" y2="17" stroke="#b5b5b5" stroke-width="1"/><line x1="587" y1="18.5" x2="616" y2="18.5" stroke="#c0c0c0" stroke-width="1"/><line x1="615.5" y1="18" x2="615.5" y2="33" stroke="#c0c0c0" stroke-width="1"/><line x1="587" y1="32.5" x2="616" y2="32.5" stroke="#1a1a1a" stroke-width="1"/><line x1="587.5" y1="18" x2="587.5" y2="33" stroke="#1a1a1a" stroke-width="1"/><text x="43.5" y="14.7" font-size="12" text-anchor="start" font-family="Liberation Sans, sans-serif" fill="#000" textLength="30.6">50 °C</text><text x="346.8" y="15.9" font-size="12" text-anchor="start" font-family="Liberation Sans, sans-serif" fill="#000" textLength="31">90 °C</text><text x="32.5" y="52.6" font-size="10.5" text-anchor="end" font-family="Liberation Sans, sans-serif" fill="#000" >100</text><text x="32.5" y="149.9" font-size="10.5" text-anchor="end" font-family="Liberation Sans, sans-serif" fill="#000" >50</text><text x="32.5" y="247.2" font-size="10.5" text-anchor="end" font-family="Liberation Sans, sans-serif" fill="#000" >0</text><text x="91.4" y="46.4" font-size="12" text-anchor="middle" font-family="Liberation Sans, sans-serif" fill="#000" >ab</text><text x="193.2" y="41.9" font-size="12" text-anchor="middle" font-family="Liberation Sans, sans-serif" fill="#000" >b</text><text x="292.8" y="9.8" font-size="12" text-anchor="middle" font-family="Liberation Sans, sans-serif" fill="#000" >a</text><text x="394.3" y="46.4" font-size="12" text-anchor="middle" font-family="Liberation Sans, sans-serif" fill="#000" >a</text><text x="496.1" y="61.7" font-size="12" text-anchor="middle" font-family="Liberation Sans, sans-serif" fill="#000" >b</text><text x="596.8" y="48.2" font-size="12" text-anchor="middle" font-family="Liberation Sans, sans-serif" fill="#000" >b</text><text x="619.3" y="14.7" font-size="12" text-anchor="start" font-family="Liberation Sans, sans-serif" fill="#000" textLength="22">MW</text><text x="619.3" y="28.8" font-size="12" text-anchor="start" font-family="Liberation Sans, sans-serif" fill="#000" textLength="17.6">CH</text><text x="90.7" y="262.6" font-size="10.5" text-anchor="middle" font-family="Liberation Sans, sans-serif" fill="#000" >Cycle 1</text><text x="192.3" y="262.6" font-size="10.5" text-anchor="middle" font-family="Liberation Sans, sans-serif" fill="#000" >Cycle 2</text><text x="292.6" y="262.6" font-size="10.5" text-anchor="middle" font-family="Liberation Sans, sans-serif" fill="#000" >Cycle 3</text><text x="394.8" y="262.6" font-size="10.5" text-anchor="middle" font-family="Liberation Sans, sans-serif" fill="#000" >Cycle 1</text><text x="495.3" y="262.6" font-size="10.5" text-anchor="middle" font-family="Liberation Sans, sans-serif" fill="#000" >Cycle 2</text><text x="596.3" y="262.6" font-size="10.5" text-anchor="middle" font-family="Liberation Sans, sans-serif" fill="#000" >Cycle 3</text><text x="9.9" y="122.9" font-size="12" text-anchor="middle" font-family="Liberation Sans, sans-serif" fill="#000" textLength="114.5" transform="rotate(-90 9.9 122.9)">Residual activity / %</text></svg></body></html>
